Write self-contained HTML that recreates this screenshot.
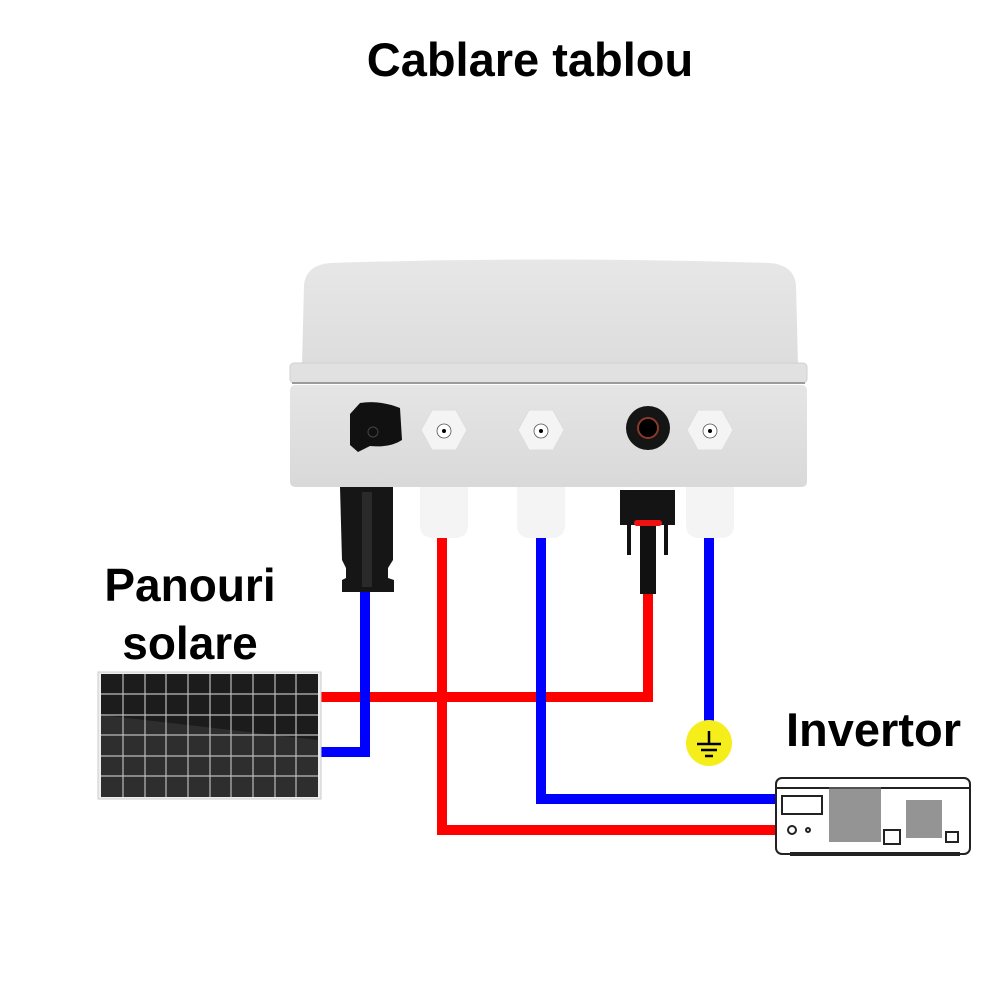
<!DOCTYPE html>
<html><head><style>
body{margin:0;background:#fff;}
.t{position:absolute;font-family:"Liberation Sans",sans-serif;font-weight:bold;color:#000;}
</style></head><body>
<div style="position:relative;width:1000px;height:1000px;overflow:hidden">
<svg width="1000" height="1000" style="position:absolute;left:0;top:0">
<defs>
<linearGradient id="lid" x1="0" y1="0" x2="0" y2="1"><stop offset="0" stop-color="#e6e7e6"/><stop offset="1" stop-color="#dcdddc"/></linearGradient>
<linearGradient id="body" x1="0" y1="0" x2="0" y2="1"><stop offset="0" stop-color="#e4e5e4"/><stop offset="1" stop-color="#d8d9d8"/></linearGradient>
</defs>
<path d="M302 365 L304 285 Q306 265 330 263 Q550 256 770 263 Q794 265 796 285 L798 365 Z" fill="url(#lid)"/>
<rect x="290" y="363" width="517" height="20" rx="4" fill="#e0e1e0" stroke="#cfd0cf"/>
<line x1="292" y1="383" x2="805" y2="383" stroke="#9a9b9a" stroke-width="2"/>
<rect x="290" y="385" width="517" height="102" rx="5" fill="url(#body)"/>
<path d="M350 414 L360 403 Q380 400 400 408 L402 440 Q390 448 370 446 L358 452 L350 445 Z" fill="#111"/>
<circle cx="373" cy="432" r="5" fill="none" stroke="#444"/>
<circle cx="648" cy="428" r="22" fill="#151515"/><circle cx="648" cy="428" r="10" fill="#000" stroke="#8a3a2a" stroke-width="2"/>
<g fill="#f4f4f4" stroke="#ddd">
<polygon points="432,410 456,410 467,430 456,450 432,450 421,430"/>
<polygon points="529,410 553,410 564,430 553,450 529,450 518,430"/>
<polygon points="698,410 722,410 733,430 722,450 698,450 687,430"/>
</g>
<g fill="#fff" stroke="#555" stroke-width="0.8"><circle cx="444" cy="431" r="7"/><circle cx="541" cy="431" r="7"/><circle cx="710" cy="431" r="7"/></g>
<g fill="#000"><circle cx="444" cy="431" r="2"/><circle cx="541" cy="431" r="2"/><circle cx="710" cy="431" r="2"/></g>
<g fill="none" stroke-width="10" stroke-linejoin="miter">
<polyline stroke="#f00" points="320,697 648,697 648,585"/>
<polyline stroke="#00f" points="320,752 365,752 365,585"/>
<polyline stroke="#f00" points="442,530 442,830 778,830"/>
<polyline stroke="#00f" points="541,530 541,799 778,799"/>
<polyline stroke="#00f" points="709,530 709,730"/>
</g>
<g fill="#f4f4f4"><path d="M420 487 H468 V525 Q468 537 456 538 H432 Q420 537 420 525 Z"/>
<path d="M517 487 H565 V525 Q565 537 553 538 H529 Q517 537 517 525 Z"/>
<path d="M686 487 H734 V525 Q734 537 722 538 H698 Q686 537 686 525 Z"/></g>
<path d="M340 487 H393 V560 L388 568 V578 L394 580 V592 H342 V580 L346 578 V568 L342 560 Z" fill="#161616"/>
<rect x="362" y="492" width="10" height="95" fill="#2a2a2a"/>
<path d="M620 490 H675 V525 H620 Z" fill="#141414"/>
<rect x="634" y="520" width="28" height="6" rx="3" fill="#e11"/>
<rect x="640" y="526" width="16" height="68" fill="#111"/>
<rect x="627" y="525" width="4" height="30" fill="#111"/><rect x="664" y="525" width="4" height="30" fill="#111"/>
<circle cx="709" cy="743" r="23" fill="#f5ee1a"/>
<g stroke="#000" stroke-width="2.5"><line x1="709" y1="731" x2="709" y2="743"/><line x1="697" y1="744" x2="721" y2="744"/><line x1="701" y1="750" x2="717" y2="750"/><line x1="705" y1="756" x2="713" y2="756"/></g>
<rect x="98" y="672" width="223" height="127" fill="#eee" stroke="#ccc"/>
<rect x="101" y="674" width="217" height="123" fill="#1c1c1c"/>
<polygon points="101,715 318,740 318,797 101,797" fill="#3a3a3a" opacity="0.6"/>
<g stroke="#bbb" stroke-width="1.2">
<line x1="123" y1="674" x2="123" y2="797"/><line x1="145" y1="674" x2="145" y2="797"/><line x1="166" y1="674" x2="166" y2="797"/><line x1="188" y1="674" x2="188" y2="797"/><line x1="210" y1="674" x2="210" y2="797"/><line x1="231" y1="674" x2="231" y2="797"/><line x1="253" y1="674" x2="253" y2="797"/><line x1="275" y1="674" x2="275" y2="797"/><line x1="296" y1="674" x2="296" y2="797"/>
<line x1="101" y1="694" x2="318" y2="694"/><line x1="101" y1="715" x2="318" y2="715"/><line x1="101" y1="735" x2="318" y2="735"/><line x1="101" y1="756" x2="318" y2="756"/><line x1="101" y1="776" x2="318" y2="776"/>
</g>
<g fill="none" stroke="#222" stroke-width="2">
<rect x="776" y="778" width="194" height="76" rx="6" fill="#fff"/>
<line x1="776" y1="788" x2="970" y2="788"/>
<rect x="782" y="796" width="40" height="18"/>
<circle cx="792" cy="830" r="4"/><circle cx="808" cy="830" r="2"/>
<rect x="884" y="830" width="16" height="14"/><rect x="946" y="832" width="12" height="10"/>
<line x1="790" y1="854" x2="960" y2="854" stroke-width="4"/>
</g>
<rect x="829" y="787" width="52" height="55" fill="#666" opacity="0.7"/>
<rect x="906" y="800" width="36" height="38" fill="#666" opacity="0.7"/>
</svg>
<div class="t" style="left:0;width:1060px;text-align:center;top:32px;font-size:47px">Cablare tablou</div>
<div class="t" style="left:90px;width:200px;text-align:center;top:556px;font-size:46px;line-height:58px">Panouri<br>solare</div>
<div class="t" style="left:786px;top:702px;font-size:47px">Invertor</div>
</div>
</body></html>
